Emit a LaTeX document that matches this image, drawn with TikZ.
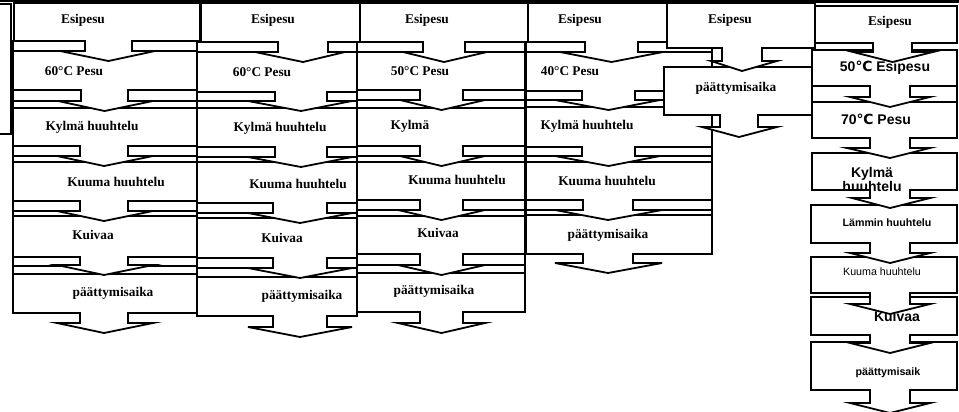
\documentclass[tikz,border=0pt]{standalone}
\usepackage{fontspec}
\setmainfont{Liberation Serif}
\setsansfont{Liberation Sans}
\newfontfamily\degfont{DejaVu Sans}

% one wash step: box, shaft and head pointing down (pixel units)
\newcommand{\washstep}[9]{%
  \filldraw[stepline] (#1,#3) -- (#2,#3) -- (#2,#4) -- (#6,#4) -- (#6,#9) -- (#8,#9)
    -- ({(#5+#6)/2},{#9+10}) -- (#7,#9) -- (#5,#9) -- (#5,#4) -- (#1,#4) -- cycle;}
% gap between two steps of a column
\newcommand{\washband}[5]{%
  \filldraw[stepline] (#1,#3) rectangle (#2,#5);
  \draw[stepline] (#1,#4) -- (#2,#4);}

\begin{document}
\begin{tikzpicture}[x=0.75pt,y=-0.75pt,
  stepline/.style={draw=black,fill=white,line width=1.35pt},
  lbl/.style={inner sep=0pt,font=\bfseries\fontsize{10}{12}\selectfont},
  sflbl/.style={inner sep=0pt,font=\sffamily\bfseries\fontsize{10.5}{10.5}\selectfont},
  smlbl/.style={inner sep=0pt,font=\sffamily\bfseries\fontsize{8}{10}\selectfont}]
\useasboundingbox (0,0) rectangle (959,411);
\draw[line width=0.8pt] (0,1) -- (959,1);
\draw[line width=1.4pt] (813,2.5) -- (959,2.5);
\draw[stepline] (-3,4) rectangle (11,134);

% column 1
\washstep{13}{197}{274}{313}{80}{128}{57}{153}{323}
\node[lbl] (c1f) at (113,293) {päättymisaika};
\washband{13}{197}{257}{266}{274}
\washstep{13}{197}{216}{257}{80}{128}{57}{153}{265}
\node[lbl] (c1e) at (93,235) {Kuivaa};
\washband{13}{197}{201}{211}{216}
\washstep{13}{197}{162}{201}{80}{128}{57}{153}{211}
\node[lbl] (c1d) at (116,182) {Kuuma huuhtelu};
\washband{13}{197}{146}{156}{162}
\washstep{13}{197}{108}{146}{80}{128}{57}{153}{156}
\node[lbl] (c1c) at (92,127) {Kylmä huuhtelu};
\washband{13}{197}{90}{101}{108}
\washstep{13}{197}{51}{90}{81}{128}{58}{153}{101}
\node[lbl] (c1b) at (74,71) {60°C Pesu};
\washband{13}{197}{41}{51}{51}
\washstep{14}{200}{3}{41}{85}{132}{60}{155}{51}
\node[lbl] (c1a) at (83,20) {Esipesu};

% column 2
\washstep{197}{357}{277}{316}{273}{327}{248}{352}{327}
\node[lbl] (c2f) at (302,296) {päättymisaika};
\washband{197}{357}{258}{268}{277}
\washstep{197}{357}{218}{258}{273}{327}{248}{352}{268}
\node[lbl] (c2e) at (282,238) {Kuivaa};
\washband{197}{357}{203}{213}{218}
\washstep{197}{357}{162}{203}{273}{327}{248}{352}{213}
\node[lbl] (c2d) at (298,184) {Kuuma huuhtelu};
\washband{197}{357}{147}{157}{162}
\washstep{197}{357}{108}{147}{275}{327}{248}{352}{157}
\node[lbl] (c2c) at (280,128) {Kylmä huuhtelu};
\washband{197}{357}{92}{101}{108}
\washstep{197}{357}{52}{92}{275}{327}{248}{352}{101}
\node[lbl] (c2b) at (262,72) {60°C Pesu};
\washband{197}{357}{42}{52}{52}
\washstep{201}{360}{3}{42}{278}{328}{255}{345}{52}
\node[lbl] (c2a) at (273,20) {Esipesu};

% column 3
\washstep{357}{525}{273}{312}{420}{463}{398}{485}{323}
\node[lbl] (c3f) at (434,291) {päättymisaika};
\washband{357}{525}{254}{265}{273}
\washstep{357}{525}{216}{254}{420}{463}{398}{485}{265}
\node[lbl] (c3e) at (438,233) {Kuivaa};
\washband{357}{525}{200}{210}{216}
\washstep{357}{525}{162}{200}{420}{463}{398}{485}{210}
\node[lbl] (c3d) at (457,180) {Kuuma huuhtelu};
\washband{357}{525}{146}{156}{162}
\washstep{357}{525}{108}{146}{420}{463}{400}{485}{156}
\node[lbl] (c3c) at (410,126) {Kylmä};
\washband{357}{525}{90}{100}{108}
\washstep{357}{525}{52}{90}{420}{463}{400}{485}{100}
\node[lbl] (c3b) at (420,71) {50°C Pesu};
\washband{357}{525}{42}{52}{52}
\washstep{360}{530}{3}{42}{423}{465}{403}{487}{52}
\node[lbl] (c3a) at (427,20) {Esipesu};

% column 4
\washstep{526}{712}{215}{254}{583}{633}{555}{662}{263}
\node[lbl] (c4e) at (608,235) {päättymisaika};
\washband{526}{712}{200}{210}{215}
\washstep{526}{712}{162}{200}{583}{633}{555}{662}{210}
\node[lbl] (c4d) at (607,181) {Kuuma huuhtelu};
\washband{526}{712}{147}{156}{162}
\washstep{526}{712}{107}{147}{582}{635}{555}{660}{156}
\node[lbl] (c4c) at (587,126) {Kylmä huuhtelu};
\washband{526}{712}{91}{100}{107}
\washstep{526}{712}{52}{91}{582}{635}{555}{660}{100}
\node[lbl] (c4b) at (570,71) {40°C Pesu};
\washband{526}{712}{42}{52}{52}
\washstep{528}{712}{3}{42}{585}{638}{560}{663}{52}
\node[lbl] (c4a) at (580,20) {Esipesu};

% column 5
\washstep{664}{813}{67}{115}{720}{758}{702}{777}{127}
\node[lbl] (c5b) at (736,88) {päättymisaika};
\washstep{667}{815}{3}{48}{722}{762}{711}{777}{61}
\node[lbl] (c5a) at (730,20) {Esipesu};

% column 6
\washstep{811}{957}{342}{390}{870}{910}{850}{930}{403}
\node[smlbl] (c6h) at (888,373) {päättymisaik};
\washstep{811}{957}{297}{335}{870}{910}{850}{930}{343}
\node[sflbl] (c6g) at (897,316) {Kuivaa};
\washstep{811}{957}{257}{293}{870}{910}{850}{930}{304}
\node[smlbl,font=\sffamily\fontsize{8}{10}\selectfont] (c6f) at (882,272) {Kuuma huuhtelu};
\washstep{811}{957}{205}{243}{870}{910}{850}{930}{253}
\node[smlbl] (c6e) at (887,223) {Lämmin huuhtelu};
\washstep{812}{957}{153}{190}{870}{910}{852}{930}{198}
\node[sflbl,align=center] (c6d) at (872,179) {Kylmä\\huuhtelu};
\washstep{812}{957}{102}{138}{870}{910}{847}{930}{148}
\node[sflbl] (c6c) at (876,119) {70{\degfont ℃} Pesu};
\washband{812}{957}{86}{102}{102}
\washstep{812}{957}{50}{86}{870}{910}{850}{930}{97}
\node[sflbl] (c6b) at (885,68) {50{\degfont ℃} Esipesu};
\washstep{815}{957}{6}{43}{873}{912}{853}{933}{52}
\node[lbl] (c6a) at (890,22) {Esipesu};
\end{tikzpicture}
\end{document}
